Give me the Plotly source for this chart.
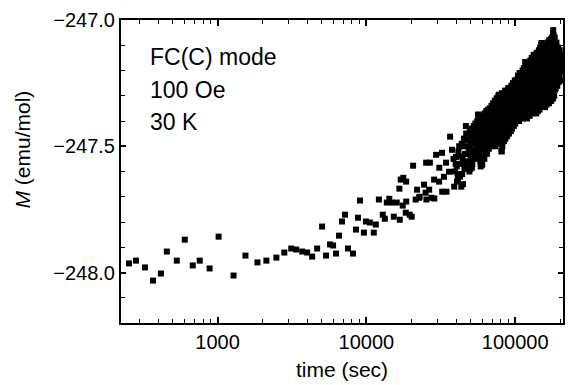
import plotly.graph_objects as go

# ---------------- data ----------------
# sparse early measurements
time_early = [254, 283, 325, 368, 416, 456, 532, 602, 681, 759, 884, 1016, 1280,
              1539, 1852, 2128, 2483, 2808, 3127, 3377, 3705, 4000, 4318, 4667,
              5038, 5355, 5697, 5970, 6252, 6547, 6856, 7180, 7519, 8124, 8507,
              8775, 9057, 9621, 9931]
m_early = [-247.964, -247.953, -247.980, -248.032, -248.004, -247.917, -247.953,
           -247.870, -247.972, -247.953, -247.984, -247.858, -248.012, -247.933,
           -247.960, -247.953, -247.941, -247.921, -247.905, -247.909, -247.917,
           -247.921, -247.937, -247.905, -247.818, -247.933, -247.889, -247.893,
           -247.925, -247.854, -247.798, -247.771, -247.905, -247.925, -247.830,
           -247.783, -247.715, -247.842, -247.798]

# middle region 10^4 .. 4x10^4 s
time_mid = [10550, 11210, 11570, 12130, 12890, 13300, 13710, 14250, 14820, 15280,
            16000, 16650, 16760, 17550, 17700, 18380, 18520, 18500, 19540, 20150,
            20600, 21420, 21900, 22600, 22780, 24400, 24980, 25200, 25300, 26400,
            26700, 27390, 28500, 28600, 29400, 30800, 30900, 32200, 32300, 33200,
            34300, 34510, 35900, 36500, 37600, 40000, 40600, 17000]
m_mid = [-247.802, -247.842, -247.810, -247.711, -247.771, -247.787, -247.723,
         -247.708, -247.723, -247.779, -247.723, -247.668, -247.791, -247.735,
         -247.625, -247.763, -247.719, -247.640, -247.771, -247.779, -247.577,
         -247.711, -247.672, -247.704, -247.700, -247.652, -247.684, -247.565,
         -247.711, -247.672, -247.565, -247.704, -247.632, -247.707, -247.534,
         -247.640, -247.585, -247.526, -247.680, -247.621, -247.565, -247.680,
         -247.601, -247.462, -247.514, -247.542, -247.640, -247.632]

# dense cloud 4x10^4 .. 2x10^5 s (first pass)
time_late = [38500, 39300, 38900,
             42000, 43100, 42600, 43400,
             45200, 46000, 45600, 46600,
             48000, 48900, 48300, 49200,
             51000, 51800, 52300, 51500,
             54000, 54800, 55200, 54400,
             56800, 57300, 58000, 57600, 58300,
             60500, 61200, 60800, 61500, 62000,
             64000, 64800, 65200, 63800, 64600,
             67500, 68300, 68900, 67800, 68600,
             71000, 71800, 72300, 71200, 72000,
             75000, 75800, 76300, 74800, 75600, 76500,
             78000, 79500, 80200, 79000, 80000, 79300, 81000,
             83000, 84200, 84800, 83600, 84500, 83900,
             87500, 88500, 89000, 87800, 88800, 88200,
             91000, 92500, 93200, 91800, 92800, 93500,
             96500, 97500, 98200, 97000, 98500, 97800,
             101500, 102500, 103400, 102000, 103800, 102800,
             107000, 108000, 106500, 108500, 107300, 108200,
             112000, 113000, 111500, 113500, 112300, 113200, 112800,
             116600, 117500, 118200, 117000, 118500, 117800, 116900,
             121500, 122500, 123200, 121800, 123500, 122200, 123000, 122700,
             126500, 127500, 128300, 126800, 128000, 127200, 128600, 127700,
             133000, 132000, 131500, 133200, 132400, 131800, 133500, 132700,
             137000, 138000, 136500, 138500, 137300, 138200, 136800, 137800, 138600,
             143000, 142000, 141500, 143300, 142400, 141800, 143500, 142700, 142200,
             147000, 148000, 146500, 148400, 147300, 148200, 146800, 147800, 148600,
             150000, 152000, 153000, 151500, 153300, 152400, 151800, 153500, 152700,
             157000, 158000, 156500, 158400, 157300, 158200, 156800, 157800, 158600,
             162000, 163000, 161500, 163300, 162400, 161800, 163500, 162700, 162200,
             167000, 168000, 166500, 168400, 167300, 168200, 166800, 167800, 168600,
             172000, 173000, 171500, 173300, 172400, 171800, 173500, 172700, 172200,
             177000, 178000, 176500, 178400, 177300, 178200, 176800, 177800, 178600,
             180000, 181000, 182000, 183000, 181500, 183300, 182400, 181800, 183500, 182700,
             187000, 188000, 186500, 188400, 187300, 188200, 186800,
             192000, 193000, 191500, 193300, 192400, 191800,
             197000, 198000, 196500, 198400,
             200500, 201500]
m_late = [-247.55, -247.60, -247.66,
          -247.50, -247.57, -247.62, -247.66,
          -247.47, -247.53, -247.59, -247.42,
          -247.45, -247.51, -247.56, -247.60,
          -247.43, -247.48, -247.53, -247.57,
          -247.41, -247.46, -247.50, -247.55,
          -247.375, -247.43, -247.47, -247.52, -247.56,
          -247.39, -247.43, -247.47, -247.51, -247.55,
          -247.36, -247.40, -247.44, -247.48, -247.53,
          -247.35, -247.39, -247.42, -247.46, -247.50,
          -247.33, -247.37, -247.41, -247.44, -247.48,
          -247.31, -247.35, -247.38, -247.42, -247.45, -247.49,
          -247.296, -247.33, -247.36, -247.40, -247.43, -247.47, -247.52,
          -247.30, -247.34, -247.37, -247.41, -247.44, -247.48,
          -247.28, -247.32, -247.35, -247.38, -247.42, -247.46,
          -247.27, -247.30, -247.33, -247.37, -247.40, -247.44,
          -247.25, -247.28, -247.32, -247.35, -247.38, -247.42,
          -247.237, -247.27, -247.30, -247.33, -247.36, -247.395,
          -247.21, -247.25, -247.28, -247.31, -247.34, -247.38,
          -247.20, -247.23, -247.26, -247.29, -247.33, -247.36, -247.39,
          -247.166, -247.20, -247.23, -247.27, -247.30, -247.33, -247.37,
          -247.17, -247.19, -247.22, -247.25, -247.28, -247.31, -247.345, -247.375,
          -247.16, -247.18, -247.21, -247.24, -247.27, -247.30, -247.33, -247.36,
          -247.138, -247.17, -247.20, -247.23, -247.26, -247.29, -247.32, -247.35,
          -247.14, -247.16, -247.19, -247.22, -247.25, -247.28, -247.31, -247.34, -247.37,
          -247.13, -247.15, -247.18, -247.21, -247.24, -247.27, -247.30, -247.33, -247.36,
          -247.11, -247.13, -247.16, -247.19, -247.22, -247.25, -247.28, -247.31, -247.34,
          -247.091, -247.12, -247.15, -247.18, -247.21, -247.24, -247.27, -247.30, -247.33,
          -247.11, -247.14, -247.17, -247.20, -247.23, -247.26, -247.29, -247.32, -247.345,
          -247.10, -247.13, -247.16, -247.19, -247.22, -247.25, -247.28, -247.31, -247.335,
          -247.09, -247.12, -247.15, -247.18, -247.21, -247.24, -247.27, -247.30, -247.33,
          -247.08, -247.11, -247.14, -247.17, -247.20, -247.23, -247.26, -247.29, -247.32,
          -247.07, -247.10, -247.13, -247.16, -247.19, -247.22, -247.25, -247.28, -247.31,
          -247.04, -247.06, -247.09, -247.12, -247.15, -247.18, -247.21, -247.24, -247.27, -247.30,
          -247.09, -247.12, -247.15, -247.18, -247.21, -247.24, -247.27,
          -247.11, -247.14, -247.17, -247.20, -247.23, -247.26,
          -247.13, -247.16, -247.19, -247.22,
          -247.15, -247.19]

# dense cloud (second pass)
time_fill = [40500, 41200,
             43700, 44400, 44000, 44600,
             46800, 47300, 47000,
             49600, 50300, 50100, 49800,
             52700, 53400, 53100,
             55600, 56300, 55900, 56500,
             58800, 59700, 59100, 59900, 59400, 58600,
             62300, 63100, 62600, 63400, 62900,
             65800, 66700, 66100, 66900, 66400,
             69300, 70400, 69700, 70100, 69500,
             73000, 74100, 73400, 73800, 72800, 73600,
             77000, 78200, 77600, 77200, 77900, 76900,
             81300, 82400, 81700, 82100, 81500, 82600, 81900,
             85500, 86600, 86000, 86300, 85700, 86800, 85900,
             89700, 90800, 90100, 90500, 89900, 91000, 90300, 90700,
             94400, 95600, 94900, 95300, 94600, 95800, 95100,
             99300, 100700, 99800, 100300, 99600, 100900, 100100,
             104300, 105600, 104800, 105200, 104500, 105800, 105000,
             109300, 110600, 109800, 110300, 109500, 110800, 110100,
             114300, 115700, 114800, 115400, 114500, 115900, 115100,
             119200, 120800, 119700, 120300, 119500, 120900, 120100, 119900,
             124200, 125800, 124700, 125300, 124400, 125900, 125100, 124900,
             129200, 130800, 129700, 130300, 129400, 130900, 130100, 129900,
             134200, 135800, 134700, 135300, 134400, 135900, 135100, 134900,
             139200, 140800, 139700, 140300, 139400, 140900, 140100, 139900,
             144200, 145800, 144700, 145300, 144400, 145900, 145100, 144900, 145500,
             149300, 150700, 149700, 150300, 149500, 150900, 150100, 149900, 150500,
             154200, 155800, 154700, 155300, 154400, 155900, 155100, 154900, 155500,
             159200, 160800, 159700, 160300, 159400, 160900, 160100, 159900, 160500,
             164200, 165800, 164700, 165300, 164400, 165900, 165100, 164900, 165500,
             169200, 170800, 169700, 170300, 169400, 170900, 170100, 169900, 170500,
             174300, 175700, 174700, 175300, 174500, 175900, 175100, 174900, 175500, 174600,
             179300, 180700, 179700, 180300, 179500, 180900, 180100, 179900, 180500, 179600,
             184300, 185700, 184700, 185300, 184500, 185900, 185100, 184900,
             189300, 190700, 189700, 190300, 189500, 190900, 190100,
             194300, 195700, 194700, 195300, 194500, 195900,
             199000, 200200, 199600, 199300, 200000,
             202500, 203300]
m_fill = [-247.58, -247.63,
          -247.49, -247.55, -247.61, -247.65,
          -247.45, -247.50, -247.57,
          -247.44, -247.49, -247.55, -247.59,
          -247.42, -247.47, -247.52,
          -247.40, -247.45, -247.49, -247.54,
          -247.38, -247.42, -247.46, -247.50, -247.54, -247.58,
          -247.37, -247.41, -247.45, -247.49, -247.53,
          -247.355, -247.38, -247.42, -247.47, -247.51,
          -247.34, -247.36, -247.40, -247.43, -247.49,
          -247.32, -247.36, -247.39, -247.43, -247.46, -247.50,
          -247.30, -247.34, -247.37, -247.41, -247.44, -247.48,
          -247.29, -247.32, -247.35, -247.39, -247.42, -247.46, -247.50,
          -247.28, -247.31, -247.33, -247.36, -247.40, -247.43, -247.47,
          -247.27, -247.29, -247.31, -247.34, -247.36, -247.39, -247.41, -247.45,
          -247.26, -247.27, -247.30, -247.34, -247.36, -247.40, -247.43,
          -247.24, -247.26, -247.29, -247.31, -247.34, -247.37, -247.41,
          -247.22, -247.24, -247.26, -247.29, -247.32, -247.35, -247.38,
          -247.21, -247.22, -247.25, -247.28, -247.31, -247.35, -247.37,
          -247.19, -247.21, -247.24, -247.28, -247.31, -247.34, -247.38,
          -247.18, -247.20, -247.235, -247.265, -247.295, -247.33, -247.36, -247.39,
          -247.17, -247.19, -247.22, -247.25, -247.29, -247.32, -247.35, -247.38,
          -247.15, -247.18, -247.215, -247.245, -247.275, -247.305, -247.34, -247.37,
          -247.15, -247.175, -247.205, -247.235, -247.265, -247.295, -247.325, -247.355,
          -247.13, -247.165, -247.195, -247.225, -247.255, -247.285, -247.315, -247.345,
          -247.12, -247.145, -247.175, -247.205, -247.235, -247.265, -247.295, -247.325, -247.355,
          -247.10, -247.135, -247.165, -247.195, -247.225, -247.255, -247.285, -247.315, -247.34,
          -247.10, -247.125, -247.155, -247.185, -247.215, -247.245, -247.275, -247.305, -247.335,
          -247.10, -247.115, -247.145, -247.175, -247.205, -247.235, -247.265, -247.295, -247.325,
          -247.09, -247.105, -247.135, -247.165, -247.195, -247.225, -247.255, -247.285, -247.315,
          -247.08, -247.095, -247.125, -247.155, -247.185, -247.215, -247.245, -247.275, -247.305,
          -247.075, -247.085, -247.115, -247.145, -247.175, -247.205, -247.235, -247.265, -247.295, -247.32,
          -247.055, -247.075, -247.105, -247.135, -247.165, -247.195, -247.225, -247.255, -247.285, -247.31,
          -247.07, -247.095, -247.125, -247.155, -247.185, -247.215, -247.245, -247.275,
          -247.09, -247.115, -247.145, -247.175, -247.205, -247.235, -247.26,
          -247.11, -247.135, -247.165, -247.195, -247.225, -247.245,
          -247.12, -247.14, -247.17, -247.21, -247.24,
          -247.16, -247.20]

# dense cloud (third pass, 4x10^4 .. 1.06x10^5 s)
time_fill2 = [39800, 41500, 41000, 42800, 44800, 45300, 47700, 48600, 50600, 50900,
              51200, 53600, 53900, 54700, 56200, 56700, 57100, 58900, 59900, 60200,
              60000, 62800, 63300, 63600, 64200, 66000, 66500, 67200, 67000, 69000,
              70000, 70700, 70300, 72600, 73200, 74000, 73700, 74300, 76800, 77300,
              78400, 77800, 78700, 81000, 80500, 81600, 82800, 82300, 83200, 85200,
              85800, 86400, 86900, 87200, 86200, 89300, 90000, 91500, 90600, 91200,
              94000, 94700, 95400, 96000, 95700, 96300, 99000, 99500, 100500, 101000,
              100200, 103000, 104000, 105500, 106000, 106200]
m_fill2 = [-247.57, -247.52, -247.61, -247.54, -247.50, -247.565, -247.475, -247.53,
           -247.46, -247.515, -247.585, -247.44, -247.49, -247.535, -247.375, -247.415,
           -247.495, -247.40, -247.44, -247.485, -247.573, -247.39, -247.43, -247.465,
           -247.51, -247.37, -247.41, -247.445, -247.485, -247.355, -247.38, -247.425,
           -247.465, -247.345, -247.385, -247.415, -247.44, -247.485, -247.325, -247.355,
           -247.395, -247.43, -247.46, -247.52, -247.31, -247.345, -247.375, -247.405,
           -247.435, -247.295, -247.325, -247.355, -247.385, -247.415, -247.45, -247.285,
           -247.325, -247.355, -247.385, -247.42, -247.265, -247.29, -247.315, -247.345,
           -247.375, -247.41, -247.25, -247.285, -247.32, -247.35, -247.385, -247.245,
           -247.285, -247.345, -247.375, -247.40]

# axis ticks
x_tickvals = [1000, 10000, 100000]
x_ticktext = ["1000", "10000", "100000"]
x_minor = [300, 400, 500, 600, 700, 800, 900,
           2000, 3000, 4000, 5000, 6000, 7000, 8000, 9000,
           20000, 30000, 40000, 50000, 60000, 70000, 80000, 90000, 200000]
y_tickvals = [-248.0, -247.5, -247.0]
y_ticktext = ["\u2212248.0", "\u2212247.5", "\u2212247.0"]

labels = ["FC(C) mode", "100 Oe", "30 K"]

# ---------------- figure ----------------
t_all = time_early + time_mid + time_late + time_fill + time_fill2
m_all = m_early + m_mid + m_late + m_fill + m_fill2

fig = go.Figure()
fig.add_trace(go.Scatter(
    x=t_all, y=m_all, mode="markers",
    marker=dict(symbol="square", size=6, color="black", line=dict(width=0)),
    showlegend=False, hoverinfo="skip"))

font_family = "Liberation Sans, Arial, Helvetica, sans-serif"

fig.update_layout(
    width=570, height=385,
    margin=dict(l=121, r=5, t=20, b=62),
    paper_bgcolor="white", plot_bgcolor="white",
    font=dict(family=font_family, size=20, color="black"),
    xaxis=dict(
        type="log", range=[2.351, 5.321],
        tickmode="array", tickvals=x_tickvals, ticktext=x_ticktext,
        ticks="inside", ticklen=6, tickwidth=1.5, tickcolor="black",
        minor=dict(tickmode="array", tickvals=x_minor, ticks="inside",
                   ticklen=4, tickwidth=1.2, tickcolor="black", showgrid=False),
        showline=True, linecolor="black", linewidth=2, mirror="ticks",
        showgrid=False, zeroline=False,
        tickfont=dict(size=20),
        title=dict(text="time (sec)", font=dict(size=21), standoff=10),
    ),
    yaxis=dict(
        range=[-248.2, -247.0],
        tickmode="array", tickvals=y_tickvals, ticktext=y_ticktext,
        ticks="inside", ticklen=5, tickwidth=1.5, tickcolor="black",
        minor=dict(dtick=0.1, ticks="inside", ticklen=4, tickwidth=1.2,
                   tickcolor="black", showgrid=False),
        showline=True, linecolor="black", linewidth=2, mirror="ticks",
        showgrid=False, zeroline=False,
        tickfont=dict(size=20),
    ),
)

# y-axis title (sits above the plot centre in the reference)
fig.add_annotation(text="<i>M</i> (emu/mol)", xref="paper", yref="paper",
                   x=-0.223, y=0.574, xanchor="center", yanchor="middle",
                   textangle=-90, showarrow=False,
                   font=dict(size=21, family=font_family, color="black"))

label_y = [0.878, 0.769, 0.663]
for txt, yy in zip(labels, label_y):
    fig.add_annotation(text=txt, xref="paper", yref="paper", x=0.061, y=yy,
                       xanchor="left", yanchor="middle", showarrow=False,
                       font=dict(size=23, family=font_family, color="black"))

fig.write_html("out.html")
